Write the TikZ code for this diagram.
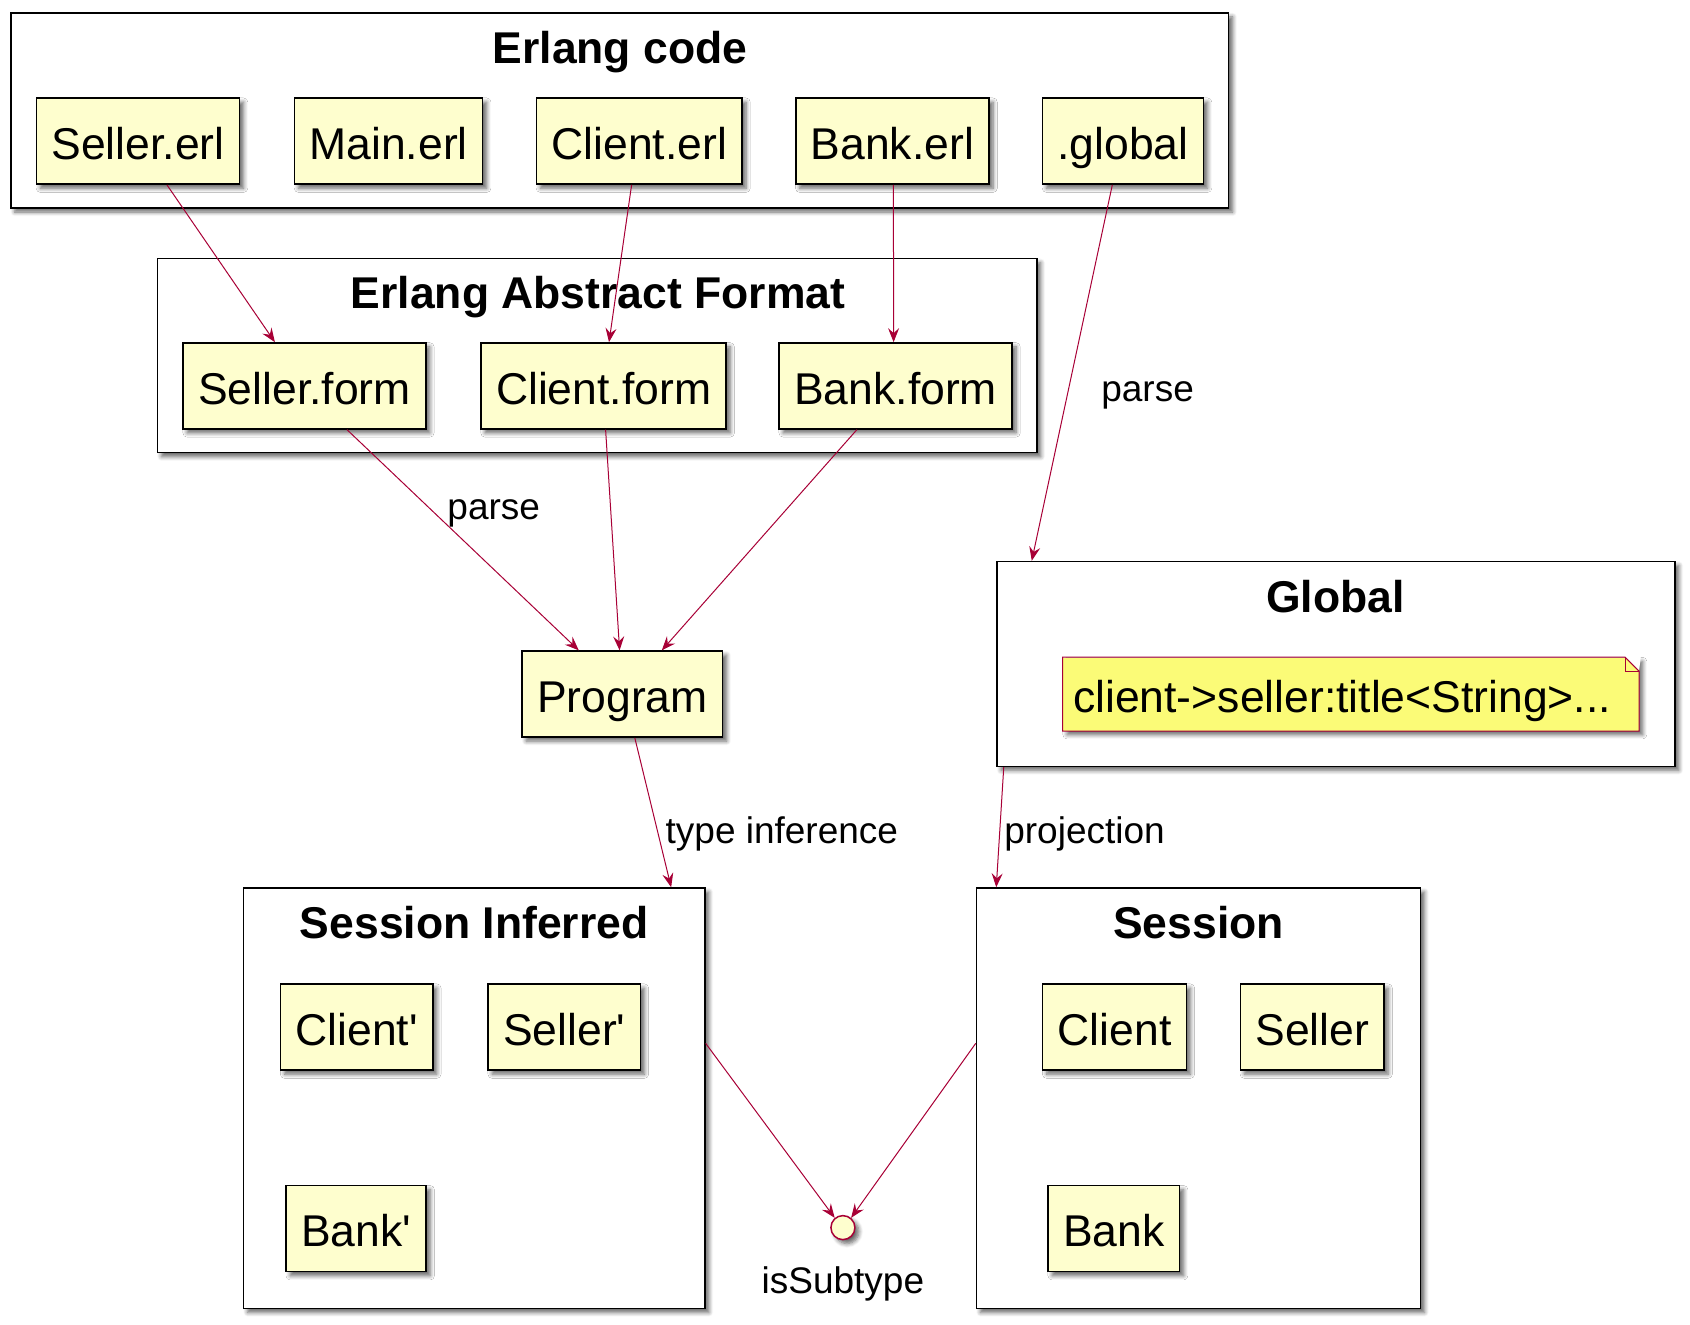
\documentclass[tikz,border=0pt]{standalone}
\usepackage{fontspec}
\setmainfont{Liberation Sans}
\usetikzlibrary{positioning,arrows.meta,shadows,shadows.blur}
\definecolor{umlfill}{HTML}{FEFECE}
\definecolor{umlline}{HTML}{A80036}
\definecolor{notefill}{HTML}{FBFB77}

\begin{document}
\begin{tikzpicture}[x=0.5pt,y=-0.5pt,
    shade/.style={blur shadow={shadow xshift=2pt,shadow yshift=-2pt,shadow blur steps=6,shadow opacity=60}},
    box/.style={draw,fill=umlfill,line width=0.75pt,minimum height=43pt,inner xsep=7.5pt,inner ysep=0pt,
        text height=18.2pt,text depth=0pt,font=\fontsize{22.25}{26}\selectfont,shade},
    grp/.style={draw,fill=white,line width=0.75pt,shade},
    titl/.style={inner sep=0pt,text height=16pt,text depth=0pt,font=\bfseries\fontsize{22.25}{26}\selectfont},
    lbl/.style={inner sep=0pt,text height=13.3pt,text depth=0pt,font=\fontsize{18.5}{22}\selectfont},
    link/.style={draw=umlline,line width=0.5pt,-{Stealth[length=7pt,width=5.5pt,inset=2.5pt]}}]
    \useasboundingbox (0,0) rectangle (1690,1324);

    % Erlang code
    \node[grp,minimum width=608.95pt,minimum height=97.55pt] (code) at (619.75,110.45) {};
    \node[titl] (codet) at (620,47) {Erlang code};
    \foreach \nm/\x/\txt in {sellererl/138/Seller.erl,mainerl/388.6/Main.erl,clienterl/639.2/Client.erl,
                             bankerl/892.4/Bank.erl,dotglobal/1123/.global} {
        \node[box] (\nm) at (\x,141.2) {\txt};
    }

    % Erlang Abstract Format
    \node[grp,minimum width=439.7pt,minimum height=97pt] (eaf) at (597.1,355.7) {};
    \node[titl] (eaft) at (598,292) {Erlang Abstract Format};
    \foreach \nm/\x/\txt in {sellerform/304.5/Seller.form,clientform/603.6/Client.form,bankform/895.6/Bank.form} {
        \node[box] (\nm) at (\x,385.9) {\txt};
    }

    % Program
    \node[box] (program) at (622.4,694.1) {Program};

    % Global
    \node[grp,minimum width=338.95pt,minimum height=102.4pt] (global) at (1335.95,663.9) {};
    \node[titl] (globalt) at (1335.4,596) {Global};
    \node[fill=notefill,inner xsep=5pt,inner ysep=0pt,text height=18.2pt,text depth=0pt,
          font=\fontsize{22.25}{26}\selectfont,text width=277.75pt,align=left,minimum height=36.6pt,
          anchor=west,shade] (note) at (1062.7,694.1) {client->seller:title<String>...};
    \fill[white] ([xshift=-7pt]note.north east) -- ([xshift=1pt,yshift=1pt]note.north east) -- ([yshift=-7pt]note.north east) -- cycle;
    \draw[umlline,line width=0.5pt] (note.north west) -- ([xshift=-7pt]note.north east) -- ([yshift=-7pt]note.north east)
        -- (note.south east) -- (note.south west) -- cycle;
    \draw[umlline,line width=0.5pt] ([xshift=-7pt]note.north east) |- ([yshift=-7pt]note.north east);

    % Session Inferred
    \node[grp,minimum width=230.65pt,minimum height=210.2pt] (inferred) at (474.25,1098.2) {};
    \node[titl] (inferredt) at (474.2,922.6) {Session Inferred};
    \node[box] (clientp) at (356.7,1027.1) {Client\textquotesingle};
    \node[box] (sellerp) at (564.3,1027.1) {Seller\textquotesingle};
    \node[box] (bankp) at (356.2,1228.7) {Bank\textquotesingle};

    % Session
    \node[grp,minimum width=222pt,minimum height=210.2pt] (session) at (1198.5,1098.2) {};
    \node[titl] (sessiont) at (1198.5,922.6) {Session};
    \node[box] (client) at (1114.5,1027.1) {Client};
    \node[box] (seller) at (1312.2,1027.1) {Seller};
    \node[box] (bank) at (1113.9,1228.7) {Bank};

    % isSubtype
    \node[circle,draw=umlline,fill=umlfill,line width=0.75pt,minimum size=12pt,inner sep=0pt,shade] (issub) at (842.9,1227.6) {};
    \node[lbl,below=13pt of issub] (issubl) {isSubtype};

    % Arrows
    \draw[link] ([xshift=14.5pt]sellererl.south) -- ([xshift=-14.8pt]sellerform.north);
    \draw[link] ([xshift=-3.8pt]clienterl.south) -- ([xshift=2.7pt]clientform.north);
    \draw[link] ([xshift=0.5pt]bankerl.south) -- ([xshift=-1pt]bankform.north);
    \draw[link] ([xshift=-5.35pt]dotglobal.south) -- node[lbl,pos=0.54,right=16pt] (parseg) {parse} ([xshift=17.75pt]global.north west);
    \draw[link] ([xshift=21.25pt]sellerform.south) -- node[lbl,pos=0.345,right=10pt] (parsep) {parse} ([xshift=-21.8pt]program.north);
    \draw[link] ([xshift=1pt]clientform.south) -- ([xshift=-1.4pt]program.north);
    \draw[link] ([xshift=-19.35pt]bankform.south) -- ([xshift=19.7pt]program.north);
    \draw[link] ([xshift=6.2pt]program.south) -- node[lbl,pos=0.615,right=4pt] (typinf) {type inference} ([xshift=-17.25pt]inferred.north east);
    \draw[link] ([xshift=3.75pt]global.south west) -- node[lbl,pos=0.523,right=2pt] (proj) {projection} ([xshift=10.25pt]session.north west);
    \draw[link] ([yshift=27.45pt]inferred.east) -- (issub.130);
    \draw[link] ([yshift=27.45pt]session.west) -- (issub.50);
\end{tikzpicture}
\end{document}
